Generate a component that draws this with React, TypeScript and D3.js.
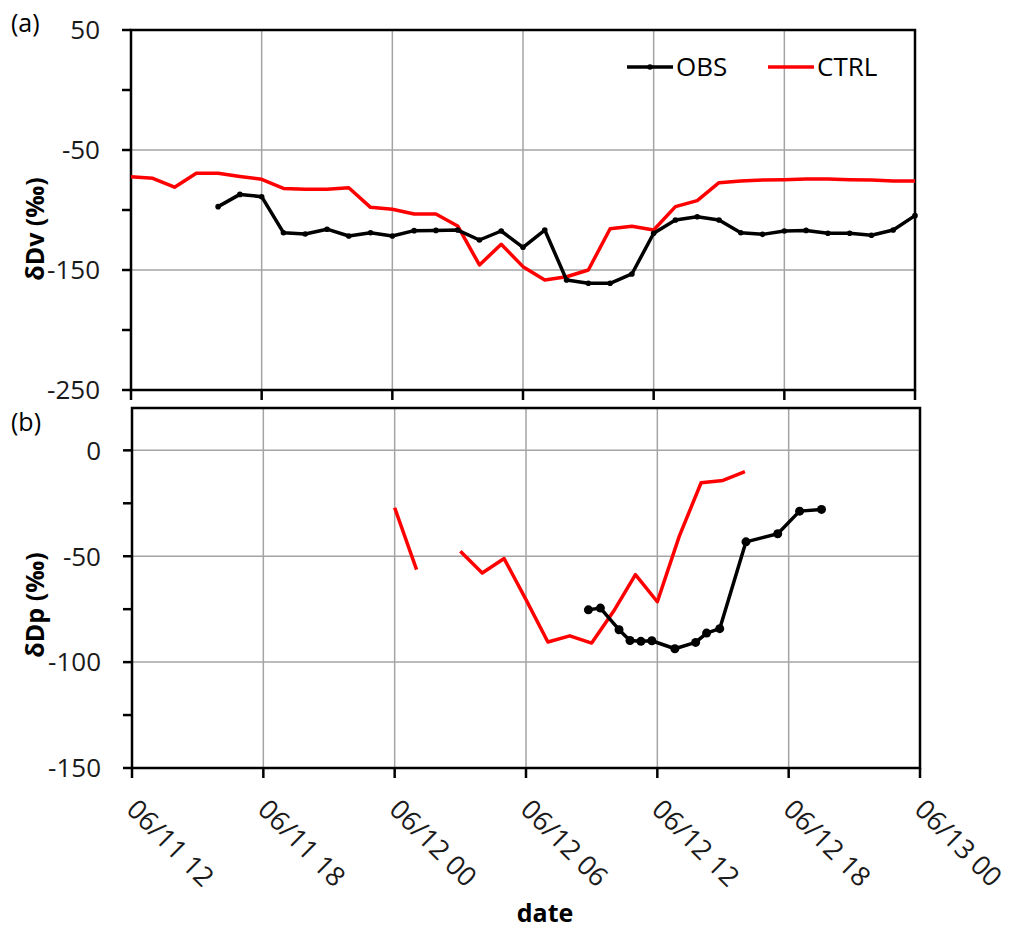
import React, { useEffect, useRef } from 'react';
import * as d3 from 'd3';

// hours after 06/11 12:00
const startTime = new Date(2013, 5, 11, 12);
const endTime = new Date(2013, 5, 13, 0);
const hourlyTimes = d3.timeHour.range(startTime, d3.timeHour.offset(endTime, 1));

// panel (a) : water vapour dD, hourly
const ctrlDv = [
  -72.2, -73.6, -81, -69.4, -69.4, -72, -74.4, -82, -82.8, -82.8, -81.4, -97.8, -99.4,
  -103.3, -103.3, -113.3, -145.8, -128.6, -147.2, -158.3, -155.6, -150, -115.6, -113.6,
  -116.7, -97.2, -92.2, -77.2, -75.8, -75, -74.7, -74.2, -74.2, -74.7, -75, -75.8, -75.8,
];
const obsDv = [
  null, null, null, null, -97.2, -87, -88.9, -118.9, -120, -116, -121.7, -118.9, -121.7,
  -117.2, -117, -116.7, -125, -117.5, -131.1, -116.7, -158.3, -161.1, -161.1, -153.3,
  -119.4, -108.3, -105.6, -108.3, -118.9, -120.3, -117.5, -117, -119.4, -119.4, -121.1,
  -116.7, -104.7,
];

// panel (b) : precipitation dD
const ctrlDp = [
  null, null, null, null, null, null, null, null, null, null, null, null, -27.1,
  -56.3, null, -47.7, -57.9, -51.1, -70.5, -90.5, -87.6, -91, -76, -58.7,
  -71.5, -40.6, -15.3, -14.2, -10.1, null, null, null, null, null, null, null, null,
];
const obsDpHours = [20.85, 21.4, 22.25, 22.75, 23.25, 23.75, 24.8, 25.75, 26.25, 26.85, 28.05, 29.5, 30.5, 31.5];
const obsDpValues = [-75.3, -74.5, -84.7, -89.8, -90.2, -89.9, -93.7, -90.7, -86.3, -84.2, -43.2, -39.4, -28.7, -27.9];

const yTicksA = [50, -50, -150, -250];
const yMinorA = [0, -100, -200];
const yTicksB = [0, -50, -100, -150];
const yMinorB = [-25, -75, -125];

const FONT = '"Open Sans", "Liberation Sans", sans-serif';
const RED = '#ff0000';
const GRID = '#a4a4a4';

type Pt = { t: Date; v: number | null };

const App = () => {
  const ref = useRef<SVGSVGElement>(null);

  useEffect(() => {
    const svg = d3.select(ref.current);
    svg.selectAll('*').remove();

    const drawPanel = (opts: {
      left: number; right: number; top: number; bottom: number;
      domain: [number, number]; ticks: number[]; minor: number[];
      label: string; labelY: number; tag: string; tagY: number;
    }) => {
      const x = d3.scaleTime().domain([startTime, endTime]).range([opts.left, opts.right]);
      const y = d3.scaleLinear().domain(opts.domain).range([opts.bottom, opts.top]);
      const g = svg.append('g');

      // grid
      g.selectAll('.vg')
        .data(x.ticks(d3.timeHour.every(6)!).slice(1, -1))
        .enter().append('line')
        .attr('x1', d => x(d)).attr('x2', d => x(d))
        .attr('y1', opts.top).attr('y2', opts.bottom)
        .attr('stroke', GRID).attr('stroke-width', 1.5);
      g.selectAll('.hg')
        .data(opts.ticks.filter(t => y(t) > opts.top + 1 && y(t) < opts.bottom - 1))
        .enter().append('line')
        .attr('x1', opts.left).attr('x2', opts.right)
        .attr('y1', d => y(d)).attr('y2', d => y(d))
        .attr('stroke', GRID).attr('stroke-width', 1.5);

      // frame
      g.append('rect')
        .attr('x', opts.left).attr('y', opts.top)
        .attr('width', opts.right - opts.left).attr('height', opts.bottom - opts.top)
        .attr('fill', 'none').attr('stroke', '#000').attr('stroke-width', 2.5);

      // y ticks
      g.selectAll('.yt')
        .data([...opts.ticks, ...opts.minor])
        .enter().append('line')
        .attr('x1', opts.left - 9).attr('x2', opts.left)
        .attr('y1', d => y(d)).attr('y2', d => y(d))
        .attr('stroke', '#000').attr('stroke-width', 2.5);
      g.selectAll('.yl')
        .data(opts.ticks)
        .enter().append('text')
        .attr('x', opts.left - 31).attr('y', d => y(d))
        .attr('dy', '0.36em')
        .attr('text-anchor', 'end')
        .attr('font-family', FONT).attr('font-size', 26).attr('fill', '#1a1a1a')
        .text(d => d);

      // x ticks
      g.selectAll('.xt')
        .data(x.ticks(d3.timeHour.every(6)!))
        .enter().append('line')
        .attr('x1', d => x(d)).attr('x2', d => x(d))
        .attr('y1', opts.bottom).attr('y2', opts.bottom + 10)
        .attr('stroke', '#000').attr('stroke-width', 2.5);

      g.append('text')
        .attr('transform', `translate(44,${opts.labelY}) rotate(-90)`)
        .attr('text-anchor', 'middle')
        .attr('font-family', FONT).attr('font-size', 25).attr('font-weight', 'bold')
        .text(opts.label);
      g.append('text')
        .attr('x', 11).attr('y', opts.tagY)
        .attr('font-family', FONT).attr('font-size', 25)
        .text(opts.tag);

      return { x, y, g };
    };

    // ---- panel (a)
    const a = drawPanel({
      left: 131, right: 915, top: 30, bottom: 390,
      domain: [-250, 50], ticks: yTicksA, minor: yMinorA,
      label: 'δDv (‰)', labelY: 229, tag: '(a)', tagY: 32,
    });
    const lineA = d3.line<Pt>().defined(d => d.v != null).x(d => a.x(d.t)).y(d => a.y(d.v as number));
    const ctrlA: Pt[] = hourlyTimes.map((t, i) => ({ t, v: ctrlDv[i] }));
    const obsA: Pt[] = hourlyTimes.map((t, i) => ({ t, v: obsDv[i] }));
    a.g.append('path').datum(ctrlA).attr('d', lineA)
      .attr('fill', 'none').attr('stroke', RED).attr('stroke-width', 3.5).attr('stroke-linejoin', 'round');
    a.g.append('path').datum(obsA).attr('d', lineA)
      .attr('fill', 'none').attr('stroke', '#000').attr('stroke-width', 3.5).attr('stroke-linejoin', 'round');
    a.g.selectAll('.oa').data(obsA.filter(d => d.v != null)).enter().append('circle')
      .attr('cx', d => a.x(d.t)).attr('cy', d => a.y(d.v as number)).attr('r', 2.8).attr('fill', '#000');

    // legend
    const lg = a.g.append('g');
    lg.append('line').attr('x1', 627).attr('x2', 673).attr('y1', 67).attr('y2', 67)
      .attr('stroke', '#000').attr('stroke-width', 3.5);
    lg.append('circle').attr('cx', 650).attr('cy', 67).attr('r', 2.8).attr('fill', '#000');
    lg.append('text').attr('x', 676).attr('y', 76).attr('font-family', FONT).attr('font-size', 26).text('OBS');
    lg.append('line').attr('x1', 768).attr('x2', 814).attr('y1', 67).attr('y2', 67)
      .attr('stroke', RED).attr('stroke-width', 3.5);
    lg.append('text').attr('x', 817).attr('y', 76).attr('font-family', FONT).attr('font-size', 26).text('CTRL');

    // ---- panel (b)
    const b = drawPanel({
      left: 132, right: 920, top: 408, bottom: 768,
      domain: [-150, 20], ticks: yTicksB, minor: yMinorB,
      label: 'δDp (‰)', labelY: 605, tag: '(b)', tagY: 431,
    });
    const lineB = d3.line<Pt>().defined(d => d.v != null).x(d => b.x(d.t)).y(d => b.y(d.v as number));
    const ctrlB: Pt[] = hourlyTimes.map((t, i) => ({ t, v: ctrlDp[i] }));
    const obsB: Pt[] = obsDpHours.map((h, i) => ({ t: new Date(+startTime + h * 3600e3), v: obsDpValues[i] }));
    b.g.append('path').datum(ctrlB).attr('d', lineB)
      .attr('fill', 'none').attr('stroke', RED).attr('stroke-width', 3.5).attr('stroke-linejoin', 'round');
    b.g.append('path').datum(obsB).attr('d', lineB)
      .attr('fill', 'none').attr('stroke', '#000').attr('stroke-width', 3.5).attr('stroke-linejoin', 'round');
    b.g.selectAll('.ob').data(obsB).enter().append('circle')
      .attr('cx', d => b.x(d.t)).attr('cy', d => b.y(d.v as number)).attr('r', 4.5).attr('fill', '#000');

    // date labels
    const fmt = d3.timeFormat('%m/%d %H');
    b.g.selectAll('.xl')
      .data(b.x.ticks(d3.timeHour.every(6)!))
      .enter().append('text')
      .attr('transform', d => `translate(${b.x(d) - 7},${811}) rotate(45)`)
      .attr('font-family', FONT).attr('font-size', 27).attr('fill', '#1a1a1a')
      .text(d => fmt(d));
    b.g.append('text')
      .attr('x', 545).attr('y', 922).attr('text-anchor', 'middle')
      .attr('font-family', FONT).attr('font-size', 25).attr('font-weight', 'bold')
      .text('date');
  }, []);

  return (
    <div style={{ position: 'absolute', left: 0, top: 0 }}>
      <svg ref={ref} width={1015} height={934} style={{ display: 'block', background: '#fff' }} />
    </div>
  );
};

export default App;
